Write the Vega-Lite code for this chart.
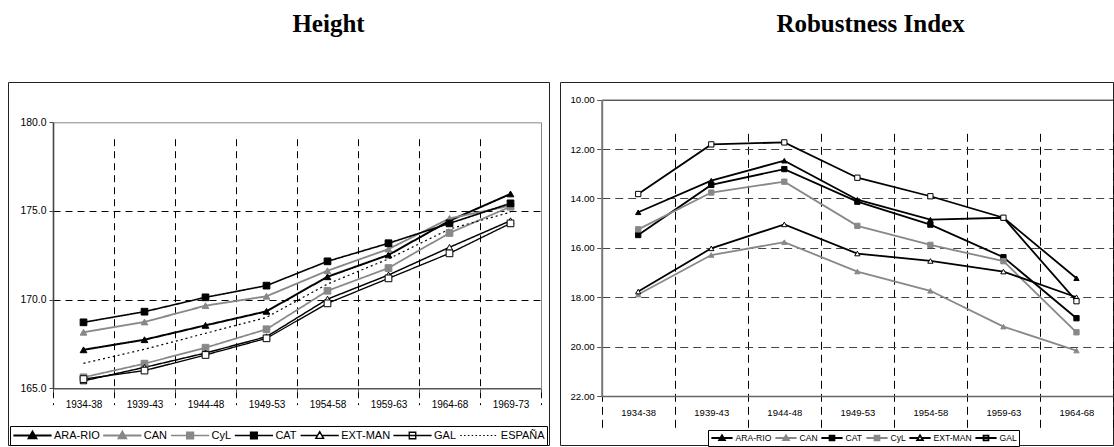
{
  "$schema": "https://vega.github.io/schema/vega-lite/v6.json",
  "padding": {"left": 7, "top": 11, "right": 0, "bottom": 0},
  "background": "white",
  "spacing": 9,
  "config": {
    "view": {"stroke": "#222", "strokeWidth": 1},
    "font": "Liberation Sans",
    "axis": {"labelFont": "Liberation Sans", "labelColor": "black", "title": null}
  },
  "datasets": {
    "height": [
      {"period": "1934-38", "region": "ARA-RIO", "value": 167.17},
      {"period": "1939-43", "region": "ARA-RIO", "value": 167.74},
      {"period": "1944-48", "region": "ARA-RIO", "value": 168.55},
      {"period": "1949-53", "region": "ARA-RIO", "value": 169.34},
      {"period": "1954-58", "region": "ARA-RIO", "value": 171.29},
      {"period": "1959-63", "region": "ARA-RIO", "value": 172.52},
      {"period": "1964-68", "region": "ARA-RIO", "value": 174.45},
      {"period": "1969-73", "region": "ARA-RIO", "value": 175.96},
      {"period": "1934-38", "region": "CAN", "value": 168.16},
      {"period": "1939-43", "region": "CAN", "value": 168.74},
      {"period": "1944-48", "region": "CAN", "value": 169.66},
      {"period": "1949-53", "region": "CAN", "value": 170.19},
      {"period": "1954-58", "region": "CAN", "value": 171.63},
      {"period": "1959-63", "region": "CAN", "value": 172.85},
      {"period": "1964-68", "region": "CAN", "value": 174.58},
      {"period": "1969-73", "region": "CAN", "value": 175.3},
      {"period": "1934-38", "region": "CyL", "value": 165.62},
      {"period": "1939-43", "region": "CyL", "value": 166.39},
      {"period": "1944-48", "region": "CyL", "value": 167.29},
      {"period": "1949-53", "region": "CyL", "value": 168.33},
      {"period": "1954-58", "region": "CyL", "value": 170.5},
      {"period": "1959-63", "region": "CyL", "value": 171.78},
      {"period": "1964-68", "region": "CyL", "value": 173.76},
      {"period": "1969-73", "region": "CyL", "value": 175.24},
      {"period": "1934-38", "region": "CAT", "value": 168.72},
      {"period": "1939-43", "region": "CAT", "value": 169.32},
      {"period": "1944-48", "region": "CAT", "value": 170.13},
      {"period": "1949-53", "region": "CAT", "value": 170.79},
      {"period": "1954-58", "region": "CAT", "value": 172.16},
      {"period": "1959-63", "region": "CAT", "value": 173.18},
      {"period": "1964-68", "region": "CAT", "value": 174.3},
      {"period": "1969-73", "region": "CAT", "value": 175.43},
      {"period": "1934-38", "region": "EXT-MAN", "value": 165.42},
      {"period": "1939-43", "region": "EXT-MAN", "value": 166.18},
      {"period": "1944-48", "region": "EXT-MAN", "value": 166.99},
      {"period": "1949-53", "region": "EXT-MAN", "value": 167.91},
      {"period": "1954-58", "region": "EXT-MAN", "value": 170.03},
      {"period": "1959-63", "region": "EXT-MAN", "value": 171.39},
      {"period": "1964-68", "region": "EXT-MAN", "value": 172.95},
      {"period": "1969-73", "region": "EXT-MAN", "value": 174.45},
      {"period": "1934-38", "region": "GAL", "value": 165.52},
      {"period": "1939-43", "region": "GAL", "value": 166.0},
      {"period": "1944-48", "region": "GAL", "value": 166.88},
      {"period": "1949-53", "region": "GAL", "value": 167.82},
      {"period": "1954-58", "region": "GAL", "value": 169.79},
      {"period": "1959-63", "region": "GAL", "value": 171.2},
      {"period": "1964-68", "region": "GAL", "value": 172.61},
      {"period": "1969-73", "region": "GAL", "value": 174.3},
      {"period": "1934-38", "region": "ESPAÑA", "value": 166.41},
      {"period": "1939-43", "region": "ESPAÑA", "value": 167.2},
      {"period": "1944-48", "region": "ESPAÑA", "value": 168.1},
      {"period": "1949-53", "region": "ESPAÑA", "value": 169.0},
      {"period": "1954-58", "region": "ESPAÑA", "value": 170.88},
      {"period": "1959-63", "region": "ESPAÑA", "value": 172.3},
      {"period": "1964-68", "region": "ESPAÑA", "value": 173.98},
      {"period": "1969-73", "region": "ESPAÑA", "value": 174.93}
    ],
    "robust": [
      {"period": "1934-38", "region": "ARA-RIO", "value": 14.56},
      {"period": "1939-43", "region": "ARA-RIO", "value": 13.28},
      {"period": "1944-48", "region": "ARA-RIO", "value": 12.47},
      {"period": "1949-53", "region": "ARA-RIO", "value": 14.05},
      {"period": "1954-58", "region": "ARA-RIO", "value": 14.86},
      {"period": "1959-63", "region": "ARA-RIO", "value": 14.78},
      {"period": "1964-68", "region": "ARA-RIO", "value": 17.23},
      {"period": "1934-38", "region": "CAN", "value": 17.89},
      {"period": "1939-43", "region": "CAN", "value": 16.29},
      {"period": "1944-48", "region": "CAN", "value": 15.77},
      {"period": "1949-53", "region": "CAN", "value": 16.96},
      {"period": "1954-58", "region": "CAN", "value": 17.74},
      {"period": "1959-63", "region": "CAN", "value": 19.19},
      {"period": "1964-68", "region": "CAN", "value": 20.16},
      {"period": "1934-38", "region": "CAT", "value": 15.48},
      {"period": "1939-43", "region": "CAT", "value": 13.45},
      {"period": "1944-48", "region": "CAT", "value": 12.81},
      {"period": "1949-53", "region": "CAT", "value": 14.13},
      {"period": "1954-58", "region": "CAT", "value": 15.06},
      {"period": "1959-63", "region": "CAT", "value": 16.38},
      {"period": "1964-68", "region": "CAT", "value": 18.85},
      {"period": "1934-38", "region": "CyL", "value": 15.25},
      {"period": "1939-43", "region": "CyL", "value": 13.76},
      {"period": "1944-48", "region": "CyL", "value": 13.32},
      {"period": "1949-53", "region": "CyL", "value": 15.11},
      {"period": "1954-58", "region": "CyL", "value": 15.88},
      {"period": "1959-63", "region": "CyL", "value": 16.54},
      {"period": "1964-68", "region": "CyL", "value": 19.42},
      {"period": "1934-38", "region": "EXT-MAN", "value": 17.77},
      {"period": "1939-43", "region": "EXT-MAN", "value": 16.02},
      {"period": "1944-48", "region": "EXT-MAN", "value": 15.05},
      {"period": "1949-53", "region": "EXT-MAN", "value": 16.23},
      {"period": "1954-58", "region": "EXT-MAN", "value": 16.53},
      {"period": "1959-63", "region": "EXT-MAN", "value": 16.96},
      {"period": "1964-68", "region": "EXT-MAN", "value": 18.0},
      {"period": "1934-38", "region": "GAL", "value": 13.82},
      {"period": "1939-43", "region": "GAL", "value": 11.81},
      {"period": "1944-48", "region": "GAL", "value": 11.73},
      {"period": "1949-53", "region": "GAL", "value": 13.16},
      {"period": "1954-58", "region": "GAL", "value": 13.91},
      {"period": "1959-63", "region": "GAL", "value": 14.78},
      {"period": "1964-68", "region": "GAL", "value": 18.16}
    ]
  },
  "resolve": {
    "scale": {"x": "independent", "y": "independent", "shape": "independent", "fill": "independent", "stroke": "independent", "strokeWidth": "independent", "strokeDash": "independent"},
    "legend": {"shape": "independent", "fill": "independent", "stroke": "independent", "strokeWidth": "independent", "strokeDash": "independent"},
    "axis": {"x": "independent", "y": "independent"}
  },
  "hconcat": [
    {
      "width": 541,
      "height": 363,
      "title": {"text": "Height", "font": "Liberation Serif", "fontSize": 25, "fontWeight": "bold", "color": "black", "anchor": "middle", "dx": 50, "offset": 45},
      "data": {"name": "height"},
      "resolve": {
        "scale": {"shape": "independent", "fill": "independent", "stroke": "independent", "strokeWidth": "independent", "strokeDash": "independent"},
        "axis": {"x": "independent", "y": "independent"}
      },
      "layer": [
        {
          "mark": {"type": "line"},
          "encoding": {
            "x": {"field": "period", "type": "ordinal",
              "scale": {"type": "band", "domain": ["1934-38", "1939-43", "1944-48", "1949-53", "1954-58", "1959-63", "1964-68", "1969-73"], "range": [45, 533], "paddingInner": 0, "paddingOuter": 0},
              "axis": {"orient": "bottom", "offset": -56.7, "tickBand": "extent", "grid": true, "gridDash": [7, 5], "gridColor": "black", "gridWidth": 1, "domainColor": "#555", "domainWidth": 1.6, "tickColor": "#555", "tickSize": 4, "labelPadding": 7, "labelFontSize": 10, "labelAngle": 0}},
            "y": {"field": "value", "type": "quantitative",
              "scale": {"domain": [165, 180], "range": [306.3, 40.3], "nice": false, "zero": false},
              "axis": {"orient": "left", "offset": -45, "values": [165, 170, 175, 180], "format": ".1f", "grid": true, "gridDash": [7, 5], "gridColor": "black", "gridWidth": 1,
                "gridOpacity": {"condition": {"test": "datum.value === 180 || datum.value === 165", "value": 0}, "value": 1},
                "domainColor": "#444", "domainWidth": 1.6, "tickColor": "#444", "tickSize": 4, "labelPadding": 3, "labelFontSize": 10.4}},
            "stroke": {"field": "region", "type": "nominal", "legend": null,
              "scale": {"domain": ["ARA-RIO", "CAN", "CyL", "CAT", "EXT-MAN", "GAL", "ESPAÑA"], "range": ["#000000", "#888888", "#888888", "#000000", "#000000", "#000000", "#000000"]}},
            "strokeWidth": {"field": "region", "type": "nominal", "legend": null,
              "scale": {"domain": ["ARA-RIO", "CAN", "CyL", "CAT", "EXT-MAN", "GAL", "ESPAÑA"], "range": [2, 1.2, 2.2, 2, 1, 1, 1]}},
            "strokeDash": {"field": "region", "type": "nominal", "legend": null,
              "scale": {"domain": ["ARA-RIO", "CAN", "CyL", "CAT", "EXT-MAN", "GAL", "ESPAÑA"], "range": [[1, 0], [1, 0], [1, 0], [1, 0], [1, 0], [1, 0], [2, 3]]}}
          }
        },
        {
          "transform": [{"filter": "datum.region !== 'ESPAÑA'"}],
          "mark": {"type": "point", "size": 45, "strokeWidth": 1, "opacity": 1},
          "encoding": {
            "x": {"field": "period", "type": "ordinal",
              "scale": {"type": "band", "domain": ["1934-38", "1939-43", "1944-48", "1949-53", "1954-58", "1959-63", "1964-68", "1969-73"], "range": [45, 533], "paddingInner": 0, "paddingOuter": 0},
              "axis": {"orient": "top", "offset": -40.3, "labels": false, "ticks": false, "grid": false, "domainColor": "#888", "domainWidth": 1}},
            "y": {"field": "value", "type": "quantitative",
              "scale": {"domain": [165, 180], "range": [306.3, 40.3], "nice": false, "zero": false},
              "axis": {"orient": "right", "offset": -8, "labels": false, "ticks": false, "grid": false, "domainColor": "#888", "domainWidth": 1}},
            "shape": {"field": "region", "type": "nominal", "legend": null,
              "scale": {"domain": ["ARA-RIO", "CAN", "CyL", "CAT", "EXT-MAN", "GAL"], "range": ["triangle-up", "triangle-up", "square", "square", "triangle-up", "square"]}},
            "fill": {"field": "region", "type": "nominal", "legend": null,
              "scale": {"domain": ["ARA-RIO", "CAN", "CyL", "CAT", "EXT-MAN", "GAL"], "range": ["#000000", "#888888", "#888888", "#000000", "#ffffff", "#ffffff"]}},
            "stroke": {"field": "region", "type": "nominal", "legend": null,
              "scale": {"domain": ["ARA-RIO", "CAN", "CyL", "CAT", "EXT-MAN", "GAL"], "range": ["#000000", "#888888", "#888888", "#000000", "#000000", "#000000"]}}
          }
        },
        {
          "transform": [{"filter": "false"}],
          "mark": {"type": "point", "opacity": 1},
          "encoding": {
            "shape": {"field": "region", "type": "nominal",
              "scale": {"domain": ["ARA-RIO", "CAN", "CyL", "CAT", "EXT-MAN", "GAL", "ESPAÑA"], "range": [
                "M-1,0H1M-0.2,0.15L0,-0.2L0.2,0.15Z",
                "M-1,0H1M-0.2,0.15L0,-0.2L0.2,0.15Z",
                "M-1,0H1M-0.17,-0.17H0.17V0.17H-0.17Z",
                "M-1,0H1M-0.17,-0.17H0.17V0.17H-0.17Z",
                "M-1,0H-0.12M0.12,0H1M-0.2,0.15L0,-0.2L0.2,0.15Z",
                "M-1,0H1M-0.17,-0.17H0.17V0.17H-0.17Z",
                "M-1,0H-0.92M-0.8,0H-0.72M-0.6,0H-0.52M-0.4,0H-0.32M-0.2,0H-0.12M0,0H0.08M0.2,0H0.28M0.4,0H0.48M0.6,0H0.68M0.8,0H0.88"]},
              "legend": {"orient": "none", "legendX": 2, "legendY": 344, "direction": "horizontal", "columns": 7, "title": null, "strokeColor": "black", "fillColor": "white", "padding": 2, "symbolSize": 1460, "labelOffset": 1, "columnPadding": 1.8, "clipHeight": 15, "labelFontSize": 11, "labelFont": "Liberation Sans", "labelColor": "black", "symbolOpacity": 1}},
            "fill": {"field": "region", "type": "nominal",
              "scale": {"domain": ["ARA-RIO", "CAN", "CyL", "CAT", "EXT-MAN", "GAL", "ESPAÑA"], "range": ["#000000", "#888888", "#888888", "#000000", "#ffffff", "#ffffff", "transparent"]},
              "legend": {"orient": "none", "legendX": 2, "legendY": 344, "direction": "horizontal", "columns": 7, "title": null, "strokeColor": "black", "fillColor": "white", "padding": 2, "symbolSize": 1460, "labelOffset": 1, "columnPadding": 1.8, "clipHeight": 15, "labelFontSize": 11, "labelFont": "Liberation Sans", "labelColor": "black", "symbolOpacity": 1}},
            "stroke": {"field": "region", "type": "nominal",
              "scale": {"domain": ["ARA-RIO", "CAN", "CyL", "CAT", "EXT-MAN", "GAL", "ESPAÑA"], "range": ["#000000", "#888888", "#888888", "#000000", "#000000", "#000000", "#000000"]},
              "legend": {"orient": "none", "legendX": 2, "legendY": 344, "direction": "horizontal", "columns": 7, "title": null, "strokeColor": "black", "fillColor": "white", "padding": 2, "symbolSize": 1460, "labelOffset": 1, "columnPadding": 1.8, "clipHeight": 15, "labelFontSize": 11, "labelFont": "Liberation Sans", "labelColor": "black", "symbolOpacity": 1}},
            "strokeWidth": {"field": "region", "type": "nominal",
              "scale": {"domain": ["ARA-RIO", "CAN", "CyL", "CAT", "EXT-MAN", "GAL", "ESPAÑA"], "range": [2, 1.2, 2.2, 2, 1, 1, 1]},
              "legend": {"orient": "none", "legendX": 2, "legendY": 344, "direction": "horizontal", "columns": 7, "title": null, "strokeColor": "black", "fillColor": "white", "padding": 2, "symbolSize": 1460, "labelOffset": 1, "columnPadding": 1.8, "clipHeight": 15, "labelFontSize": 11, "labelFont": "Liberation Sans", "labelColor": "black", "symbolOpacity": 1}}
          }
        }
      ]
    },
    {
      "width": 553,
      "height": 363,
      "title": {"text": "Robustness Index", "font": "Liberation Serif", "fontSize": 25, "fontWeight": "bold", "color": "black", "anchor": "middle", "dx": 34, "offset": 45},
      "data": {"name": "robust"},
      "resolve": {
        "scale": {"shape": "independent", "fill": "independent", "stroke": "independent", "strokeWidth": "independent"},
        "axis": {"x": "independent", "y": "independent"}
      },
      "layer": [
        {
          "mark": {"type": "line"},
          "encoding": {
            "x": {"field": "period", "type": "ordinal",
              "scale": {"type": "band", "domain": ["1934-38", "1939-43", "1944-48", "1949-53", "1954-58", "1959-63", "1964-68"], "range": [41.7, 553], "paddingInner": 0, "paddingOuter": 0},
              "axis": {"orient": "bottom", "offset": -49, "tickBand": "extent", "grid": true, "gridDash": [8, 5], "gridColor": "black", "gridWidth": 1, "domainColor": "#666", "domainWidth": 1.6, "ticks": false, "tickSize": 0, "labelPadding": 11.5, "labelFontSize": 9.5, "labelAngle": 0}},
            "y": {"field": "value", "type": "quantitative",
              "scale": {"domain": [10, 22], "range": [17.7, 314], "nice": false, "zero": false},
              "axis": {"orient": "left", "offset": -41.7, "values": [10, 12, 14, 16, 18, 20, 22], "format": ".2f", "grid": true, "gridDash": [8, 5], "gridColor": "#444", "gridWidth": 1,
                "gridOpacity": {"condition": {"test": "datum.value === 10 || datum.value === 22", "value": 0}, "value": 1},
                "domainColor": "#777", "domainWidth": 2, "tickColor": "#555", "tickSize": 5, "labelPadding": 2.5, "labelFontSize": 9.7}},
            "stroke": {"field": "region", "type": "nominal", "legend": null,
              "scale": {"domain": ["ARA-RIO", "CAN", "CAT", "CyL", "EXT-MAN", "GAL"], "range": ["#000000", "#888888", "#000000", "#888888", "#000000", "#000000"]}},
            "strokeWidth": {"field": "region", "type": "nominal", "legend": null,
              "scale": {"domain": ["ARA-RIO", "CAN", "CAT", "CyL", "EXT-MAN", "GAL"], "range": [1.8, 1.8, 1.8, 1.8, 1, 1]}}
          }
        },
        {
          "mark": {"type": "point", "size": 28, "strokeWidth": 1, "opacity": 1},
          "encoding": {
            "x": {"field": "period", "type": "ordinal",
              "scale": {"type": "band", "domain": ["1934-38", "1939-43", "1944-48", "1949-53", "1954-58", "1959-63", "1964-68"], "range": [41.7, 553], "paddingInner": 0, "paddingOuter": 0},
              "axis": {"orient": "top", "offset": -17.7, "labels": false, "ticks": false, "grid": false, "domainColor": "#111", "domainWidth": 1}},
            "y": {"field": "value", "type": "quantitative",
              "scale": {"domain": [10, 22], "range": [17.7, 314], "nice": false, "zero": false},
              "axis": null},
            "shape": {"field": "region", "type": "nominal", "legend": null,
              "scale": {"domain": ["ARA-RIO", "CAN", "CAT", "CyL", "EXT-MAN", "GAL"], "range": ["triangle-up", "triangle-up", "square", "square", "triangle-up", "square"]}},
            "fill": {"field": "region", "type": "nominal", "legend": null,
              "scale": {"domain": ["ARA-RIO", "CAN", "CAT", "CyL", "EXT-MAN", "GAL"], "range": ["#000000", "#888888", "#000000", "#888888", "#ffffff", "#ffffff"]}},
            "stroke": {"field": "region", "type": "nominal", "legend": null,
              "scale": {"domain": ["ARA-RIO", "CAN", "CAT", "CyL", "EXT-MAN", "GAL"], "range": ["#000000", "#888888", "#000000", "#888888", "#000000", "#000000"]}}
          }
        },
        {
          "transform": [{"filter": "false"}],
          "mark": {"type": "point", "opacity": 1},
          "encoding": {
            "shape": {"field": "region", "type": "nominal",
              "scale": {"domain": ["ARA-RIO", "CAN", "CAT", "CyL", "EXT-MAN", "GAL"], "range": [
                "M-1,0H1M-0.27,0.2L0,-0.25L0.27,0.2Z",
                "M-1,0H1M-0.27,0.2L0,-0.25L0.27,0.2Z",
                "M-1,0H1M-0.23,-0.23H0.23V0.23H-0.23Z",
                "M-1,0H1M-0.23,-0.23H0.23V0.23H-0.23Z",
                "M-1,0H-0.15M0.15,0H1M-0.27,0.2L0,-0.25L0.27,0.2Z",
                "M-1,0H1M-0.23,-0.23H0.23V0.23H-0.23Z"]},
              "legend": {"orient": "none", "legendX": 148, "legendY": 348, "direction": "horizontal", "columns": 6, "title": null, "strokeColor": "black", "fillColor": "white", "padding": 2, "symbolSize": 450, "labelOffset": 1.5, "columnPadding": 2, "clipHeight": 12, "labelFontSize": 8.6, "labelFont": "Liberation Sans", "labelColor": "black", "symbolOpacity": 1}},
            "fill": {"field": "region", "type": "nominal",
              "scale": {"domain": ["ARA-RIO", "CAN", "CAT", "CyL", "EXT-MAN", "GAL"], "range": ["#000000", "#888888", "#000000", "#888888", "#ffffff", "#ffffff"]},
              "legend": {"orient": "none", "legendX": 148, "legendY": 348, "direction": "horizontal", "columns": 6, "title": null, "strokeColor": "black", "fillColor": "white", "padding": 2, "symbolSize": 450, "labelOffset": 1.5, "columnPadding": 2, "clipHeight": 12, "labelFontSize": 8.6, "labelFont": "Liberation Sans", "labelColor": "black", "symbolOpacity": 1}},
            "stroke": {"field": "region", "type": "nominal",
              "scale": {"domain": ["ARA-RIO", "CAN", "CAT", "CyL", "EXT-MAN", "GAL"], "range": ["#000000", "#888888", "#000000", "#888888", "#000000", "#000000"]},
              "legend": {"orient": "none", "legendX": 148, "legendY": 348, "direction": "horizontal", "columns": 6, "title": null, "strokeColor": "black", "fillColor": "white", "padding": 2, "symbolSize": 450, "labelOffset": 1.5, "columnPadding": 2, "clipHeight": 12, "labelFontSize": 8.6, "labelFont": "Liberation Sans", "labelColor": "black", "symbolOpacity": 1}},
            "strokeWidth": {"field": "region", "type": "nominal",
              "scale": {"domain": ["ARA-RIO", "CAN", "CAT", "CyL", "EXT-MAN", "GAL"], "range": [1.8, 1.8, 1.8, 1.8, 1, 1]},
              "legend": {"orient": "none", "legendX": 148, "legendY": 348, "direction": "horizontal", "columns": 6, "title": null, "strokeColor": "black", "fillColor": "white", "padding": 2, "symbolSize": 450, "labelOffset": 1.5, "columnPadding": 2, "clipHeight": 12, "labelFontSize": 8.6, "labelFont": "Liberation Sans", "labelColor": "black", "symbolOpacity": 1}}
          }
        }
      ]
    }
  ]
}
